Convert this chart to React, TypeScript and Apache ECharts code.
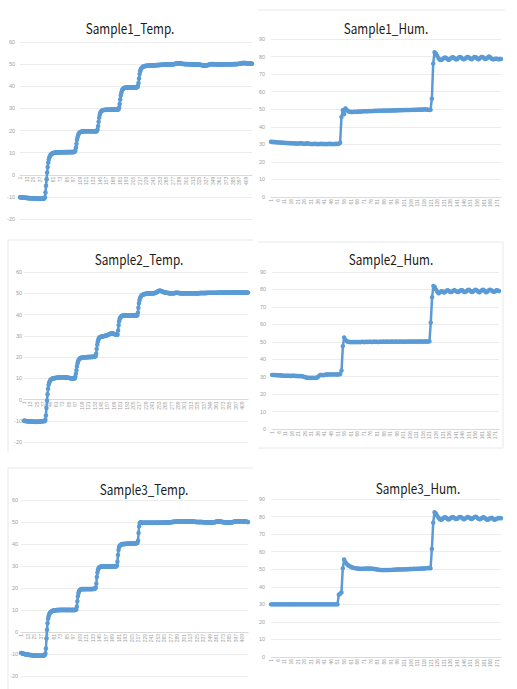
import React, { useEffect, useRef } from "react";
import * as echarts from "echarts";

// Temperature logs (°C), one reading per sample step
const sample1Temp = [
  -10.2,-10.2,-10.3,-10.2,-10.3,-10.3,-10.4,-10.3,-10.4,-10.4,-10.4,-10.5,-10.4,-10.5,-10.5,-10.5,-10.6,-10.5,-10.6,-10.6,
  -10.6,-10.6,-10.7,-10.6,-10.7,-10.7,-10.7,-10.8,-10.7,-10.8,-10.8,-10.8,-10.8,-10.9,-10.8,-10.8,-10.9,-10.8,-10.8,-10.9,
  -10.8,-10.8,-10.9,-10.8,-10.7,-10.2,-8,-5,-2,1,3.5,5.5,6.8,7.8,8.4,8.9,9.2,9.4,9.6,9.7,
  9.8,9.9,9.9,10,10,10.1,10.1,10.1,10.2,10.1,10.2,10.2,10.2,10.1,10.2,10.2,10.3,10.2,10.2,10.2,
  10.3,10.2,10.2,10.3,10.2,10.2,10.3,10.3,10.2,10.3,10.3,10.2,10.3,10.3,10.3,10.2,10.3,10.4,10.3,10.5,
  11,12.3,14,15.8,17,17.9,18.5,18.9,19.1,19.3,19.4,19.5,19.5,19.6,19.6,19.6,19.7,19.6,19.7,19.7,
  19.7,19.6,19.7,19.7,19.7,19.6,19.7,19.7,19.6,19.7,19.7,19.6,19.7,19.6,19.6,19.7,19.6,19.7,19.6,19.8,
  20.5,22,24,25.8,27,27.9,28.4,28.8,29,29.1,29.2,29.3,29.3,29.3,29.4,29.3,29.4,29.4,29.4,29.3,
  29.4,29.4,29.4,29.5,29.4,29.4,29.5,29.4,29.5,29.4,29.4,29.5,29.4,29.5,29.4,29.5,29.4,29.5,29.6,30.4,
  32,34,35.8,37,37.9,38.5,38.8,39,39.2,39.3,39.3,39.4,39.4,39.5,39.4,39.5,39.5,39.5,39.4,39.5,
  39.5,39.5,39.4,39.5,39.5,39.5,39.4,39.5,39.5,39.4,39.5,39.5,39.6,40.2,41.5,43.5,45.5,46.8,47.6,48.1,
  48.4,48.6,48.8,48.9,49,49.1,49.1,49.2,49.2,49.3,49.3,49.3,49.3,49.4,49.3,49.4,49.4,49.4,49.4,49.5,
  49.4,49.5,49.5,49.5,49.5,49.5,49.6,49.5,49.6,49.6,49.6,49.6,49.6,49.7,49.6,49.7,49.7,49.7,49.7,49.7,
  49.7,49.8,49.7,49.8,49.8,49.8,49.8,49.8,49.8,49.8,49.9,49.8,49.9,49.9,49.9,49.9,49.9,49.9,50,50,
  50.1,50.2,50.3,50.3,50.4,50.4,50.4,50.4,50.4,50.3,50.3,50.3,50.2,50.2,50.1,50.1,50.1,50,50,50,
  50,50,50,49.9,50,49.9,49.9,49.9,49.9,49.9,49.9,49.8,49.9,49.8,49.8,49.8,49.8,49.8,49.8,49.8,
  49.8,49.8,49.8,49.7,49.7,49.7,49.7,49.6,49.6,49.5,49.5,49.4,49.4,49.4,49.4,49.4,49.4,49.5,49.5,49.6,
  49.6,49.7,49.8,49.9,49.9,50,50,50,50,49.9,50,49.9,49.9,49.9,49.9,49.9,49.9,49.8,49.9,49.8,
  49.8,49.8,49.8,49.8,49.8,49.8,49.9,49.8,49.9,49.9,49.9,49.9,49.9,49.9,49.9,49.9,49.9,49.9,49.9,49.9,
  49.9,49.9,49.9,49.9,49.9,50,49.9,50,50,50,50,50,50,50.1,50.1,50.1,50.2,50.2,50.3,50.3,
  50.4,50.4,50.5,50.5,50.5,50.5,50.5,50.4,50.5,50.4,50.4,50.4,50.3,50.4,50.3,50.3,50.3,50.2,50.3,50.2,
];

const sample2Temp = [
  -10,-10,-10.1,-10.1,-10.1,-10.2,-10.2,-10.2,-10.3,-10.3,-10.3,-10.3,-10.4,-10.4,-10.4,-10.4,-10.5,-10.5,-10.5,-10.5,
  -10.5,-10.5,-10.6,-10.5,-10.5,-10.5,-10.5,-10.5,-10.4,-10.4,-10.4,-10.3,-10.3,-10.3,-10.2,-10.2,-10.2,-10.1,-10.1,-10.1,
  -9.5,-7.5,-4,-0.5,2.5,5,6.8,7.8,8.5,9,9.3,9.5,9.7,9.8,9.9,10,10,10.1,10.1,10.1,
  10.2,10.2,10.2,10.3,10.3,10.3,10.4,10.4,10.4,10.4,10.5,10.5,10.5,10.5,10.5,10.4,10.4,10.4,10.4,10.3,
  10.3,10.3,10.2,10.2,10.2,10.1,10.1,10,10,10,10,9.9,9.9,10,9.9,10,10.8,12.2,13.8,15.5,
  16.8,17.8,18.5,18.9,19.2,19.4,19.5,19.6,19.7,19.7,19.8,19.8,19.8,19.9,19.9,19.9,19.9,19.9,20,19.9,
  20,20,20,20,20,20,20,20.1,20,20.1,20.1,20.2,20.2,20.3,20.3,21.5,23.8,25.8,27.2,28.1,
  28.7,29.1,29.3,29.4,29.5,29.6,29.6,29.7,29.8,29.8,29.9,29.9,30,30,30.1,30.2,30.3,30.4,30.5,30.7,
  30.8,30.9,31,31,31.1,31.1,31,31,30.9,30.8,30.7,30.6,30.6,30.5,30.5,30.6,32.5,35,36.8,37.9,
  38.5,38.8,39.1,39.3,39.4,39.5,39.5,39.5,39.6,39.5,39.6,39.5,39.5,39.6,39.5,39.5,39.6,39.5,39.5,39.5,
  39.6,39.5,39.5,39.5,39.6,39.5,39.5,39.5,39.6,39.5,39.5,39.6,39.6,40.8,43.2,45.3,46.7,47.6,48.2,48.6,
  48.9,49.1,49.3,49.4,49.5,49.6,49.6,49.7,49.8,49.8,49.8,49.9,49.9,49.9,50,49.9,50,50,50,50,
  50,50,50,50,50.1,50.1,50.2,50.3,50.4,50.6,50.8,50.9,51.1,51.2,51.2,51.2,51.1,51,50.9,50.8,
  50.7,50.6,50.5,50.4,50.4,50.3,50.3,50.2,50.2,50.1,50.1,50.1,50,50,50,50,50,50,50,50,
  50,50.1,50.1,50.1,50.2,50.2,50.2,50.2,50.2,50.1,50.1,50.1,50,50,50,50,50,50,50,50,
  50,50,50,50,50,50,50,50,50,50,50,50,50,50,50,50,50,50,50,50,
  50,50,50,50,50,50,50,50.1,50,50.1,50.1,50.1,50.1,50.1,50.1,50.1,50.1,50.1,50.1,50.1,
  50.1,50.2,50.1,50.2,50.2,50.2,50.2,50.2,50.2,50.2,50.2,50.2,50.2,50.2,50.2,50.2,50.2,50.2,50.2,50.2,
  50.2,50.2,50.2,50.3,50.2,50.3,50.2,50.3,50.3,50.3,50.3,50.3,50.3,50.3,50.3,50.3,50.3,50.3,50.3,50.3,
  50.3,50.3,50.3,50.3,50.3,50.3,50.3,50.3,50.3,50.3,50.3,50.3,50.3,50.3,50.3,50.3,50.3,50.3,50.3,50.3,
  50.3,50.3,50.3,50.3,50.3,50.3,50.3,50.3,50.3,50.3,50.3,50.3,50.3,50.3,50.3,50.3,50.3,50.3,50.3,50.3,
];

const sample3Temp = [
  -9.5,-9.6,-9.7,-9.8,-9.9,-9.9,-10,-10,-10.1,-10.1,-10.2,-10.2,-10.3,-10.3,-10.3,-10.4,-10.4,-10.5,-10.5,-10.5,
  -10.6,-10.6,-10.6,-10.7,-10.7,-10.7,-10.8,-10.8,-10.8,-10.7,-10.8,-10.8,-10.8,-10.7,-10.8,-10.8,-10.7,-10.8,-10.8,-10.8,
  -10.7,-10.8,-10.7,-10.6,-10.5,-9.8,-7.5,-3,1,4,6,7.2,8,8.5,8.9,9.1,9.3,9.5,9.6,9.7,
  9.7,9.8,9.8,9.9,9.9,9.9,10,10,10,10,10,10,10,10.1,10,10,10.1,10,10,10.1,
  10,10,10.1,10,10,10,10.1,10,10,10,10.1,10,10,10,10,10,10.1,10,10,10,
  10,10.1,10.2,11.5,14,16.2,17.6,18.4,18.9,19.1,19.3,19.4,19.5,19.5,19.5,19.5,19.4,19.5,19.5,19.5,
  19.5,19.5,19.5,19.5,19.5,19.5,19.5,19.5,19.5,19.5,19.5,19.5,19.5,19.6,19.6,19.6,19.7,19.8,20.2,22,
  25,27,28.2,28.9,29.2,29.4,29.6,29.7,29.8,29.8,29.8,29.8,29.8,29.8,29.8,29.8,29.8,29.8,29.8,29.8,
  29.8,29.8,29.8,29.8,29.8,29.8,29.8,29.8,29.8,29.8,29.8,29.8,29.8,29.8,29.8,29.8,29.9,30.2,32,35,
  37.3,38.5,39.1,39.4,39.6,39.8,39.9,40,40,40,40,40,40,40.1,40.1,40.1,40.1,40.1,40.1,40.2,
  40.2,40.2,40.2,40.2,40.2,40.2,40.3,40.3,40.3,40.3,40.3,40.3,40.3,40.3,40.4,40.6,41.5,45,48,49.4,
  49.8,49.9,49.7,49.6,49.6,49.6,49.6,49.7,49.6,49.7,49.7,49.6,49.7,49.7,49.7,49.6,49.7,49.7,49.7,49.7,
  49.7,49.7,49.7,49.6,49.7,49.7,49.7,49.7,49.7,49.7,49.7,49.6,49.7,49.7,49.7,49.7,49.7,49.7,49.8,49.7,
  49.7,49.7,49.8,49.7,49.7,49.8,49.7,49.8,49.8,49.8,49.8,49.8,49.8,49.9,49.9,49.9,49.9,49.9,50,50,
  50,50,50.1,50.1,50.1,50.1,50.1,50.1,50.2,50.2,50.2,50.2,50.2,50.2,50.2,50.2,50.2,50.2,50.2,50.2,
  50.2,50.2,50.2,50.2,50.2,50.2,50.2,50.2,50.2,50.2,50.2,50.2,50.2,50.2,50.2,50.2,50.2,50.2,50.1,50.1,
  50.1,50.1,50.1,50,50,50,50,50,50,50,50,50,50,50,50,50,49.9,49.9,49.9,49.9,
  49.9,49.9,49.9,49.9,49.8,49.8,49.8,49.8,49.8,49.8,49.8,49.8,49.8,49.8,49.8,49.8,49.9,49.9,50,50,
  50.1,50.1,50.2,50.2,50.2,50.2,50.2,50.2,50.2,50.1,50.1,50,50,50,49.9,49.9,49.9,49.8,49.8,49.8,
  49.8,49.8,49.8,49.8,49.8,49.8,49.8,49.8,49.9,49.9,49.9,50,50,50.1,50.1,50.2,50.2,50.3,50.3,50.3,
  50.3,50.3,50.3,50.3,50.3,50.3,50.3,50.3,50.3,50.3,50.3,50.3,50.2,50.2,50.2,50.1,50.1,50.1,50,50,
];

// Humidity logs (%RH)
const sample1Hum = [
  31.5,31.4,31.3,31.3,31.2,31.1,31.1,31,31,30.9,
  30.9,30.8,30.8,30.7,30.7,30.6,30.6,30.6,30.5,30.5,
  30.4,30.5,30.7,30.5,30.4,30.3,30.3,30.6,30.4,30.3,
  30.2,30.2,30.2,30.3,30.2,30.2,30.2,30.2,30.3,30.2,
  30.2,30.2,30.2,30.2,30.3,30.2,30.2,30.2,30.2,30.3,
  30.2,30.3,30.9,45.5,49.5,47.2,50.5,49.6,48.9,48.6,
  48.5,48.4,48.5,48.6,48.5,48.6,48.7,48.6,48.7,48.8,
  48.8,48.9,48.8,48.9,49,48.9,49,49,49.1,49,
  49.1,49.1,49.2,49.1,49.2,49.2,49.2,49.3,49.2,49.3,
  49.3,49.3,49.4,49.3,49.4,49.4,49.4,49.5,49.4,49.5,
  49.5,49.5,49.6,49.5,49.6,49.6,49.6,49.7,49.6,49.7,
  49.7,49.7,49.8,49.7,49.8,49.8,49.9,49.8,49.7,49.6,
  49.6,56,76,82.5,81.8,80.5,79,78.2,78,78.5,
  79.2,79.5,79,78.3,78.2,78.8,79.5,79.6,79,78.4,
  78.5,79.3,79.8,79.5,78.8,78.4,78.8,79.5,79.8,79.4,
  78.7,78.5,79.2,79.8,79.6,78.9,78.5,79,79.7,79.8,
  79.3,78.6,78.8,79.5,80,79.5,78.7,78.4,78.6,78.8,
  78.7,78.5,78.6,78.6,
];

const sample2Hum = [
  31,31,30.9,30.9,30.8,30.8,30.8,30.7,30.6,30.5,
  30.5,30.5,30.5,30.5,30.4,30.5,30.5,30.5,30.4,30.4,
  30.4,30.3,30.3,30.2,30,29.8,29.5,29.4,29.3,29.3,
  29.3,29.3,29.3,29.3,29.4,29.8,30.6,31,31,30.8,
  31,31.2,31.2,31.2,31.3,31.3,31.2,31.3,31.3,31.3,
  31.2,31.3,31.5,33.5,47.5,52.5,51,50.3,50,49.9,
  49.8,49.8,49.9,49.8,49.8,49.9,49.9,49.8,49.9,50,
  49.9,49.9,50,49.9,50,50,49.9,50,50,50,
  50,49.9,50,50,50,50.1,50,50,50.1,50,
  50,50.1,50.1,50,50.1,50.1,50,50.1,50.1,50.1,
  50.1,50,50.1,50.1,50.1,50.2,50.1,50.1,50.2,50.1,
  50.1,50.2,50.1,50.2,50.2,50.1,50.2,50.2,50.2,50.2,
  50.3,61,75.5,82,81.5,80,78.5,77.8,78.3,79,
  78.8,78.2,78.5,79.3,79.5,79,78.5,78.6,79.2,79.6,
  79.2,78.6,78.5,79.1,79.6,79.5,78.8,78.5,78.8,79.5,
  79.8,79.3,78.6,78.6,79.3,79.8,79.5,78.8,78.4,78.9,
  79.6,79.8,79.2,78.4,78.6,79.4,79.8,79.6,79.1,78.6,
  78.9,79.5,79.4,79.1,
];

const sample3Hum = [
  30,30,30,30,30,30,30,30,30,30,
  30,30,30,30,30,30,30,30,30,30,
  30,30,30,30,30,30,30,30,30,30,
  30,30,30,30,30,30,30,30,30,30,
  30,30,30,30,30,30,30,30,30,30,
  30,35.5,36,36.8,50.5,55.5,54,53,52.3,51.8,
  51.4,51,50.8,50.6,50.5,50.4,50.3,50.3,50.2,50.3,
  50.3,50.3,50.4,50.4,50.3,50.4,50.3,50.2,50.1,50,
  49.8,49.7,49.6,49.5,49.5,49.5,49.6,49.5,49.5,49.6,
  49.6,49.6,49.7,49.7,49.8,49.8,49.8,49.9,49.8,49.9,
  49.9,50,50,50,50.1,50.1,50.1,50.2,50.2,50.2,
  50.3,50.3,50.3,50.4,50.4,50.4,50.5,50.5,50.7,50.7,
  50.5,61.5,76.5,82.5,81.8,80.5,79.3,78.5,78.2,78.6,
  79.3,79.6,79.2,78.5,78.4,79,79.6,79.7,79.2,78.6,
  78.7,79.4,79.8,79.6,79,78.5,78.8,79.4,79.8,79.5,
  78.9,78.6,79.1,79.7,79.9,79.4,78.7,78.4,78.8,79.4,
  79.6,79.1,78.4,78.2,78.6,79,79.3,78.7,78.2,78.4,
  78.8,79.1,79.2,79,
];

// Sample numbers along the x axis (1-based)
const tempCategories = sample1Temp.map((_, i) => String(i + 1));
const humCategories = sample1Hum.map((_, i) => String(i + 1));

// Value axis ranges: [min, max, step]
const tempAxisRange = [-20, 60, 10];
const humAxisRange = [0, 90, 10];

// Every n-th sample number is printed under the axis
const tempLabelStep = 12;
const humLabelStep = 5;

const titles = [
  "Sample1_Temp.",
  "Sample1_Hum.",
  "Sample2_Temp.",
  "Sample2_Hum.",
  "Sample3_Temp.",
  "Sample3_Hum.",
];

const LINE_BLUE = "#5B9BD5";
const LABEL_GREY = "#a0a0a0";

type Panel = {
  title: string;
  values: number[];
  kind: "temp" | "hum";
  grid: { left: number; top: number; width: number; height: number };
  labelMargin: number;
  titleX: number;
  titleY: number;
};

const panels: Panel[] = [
  { title: titles[0], values: sample1Temp, kind: "temp", grid: { left: 20, top: 42, width: 232, height: 177 }, labelMargin: 5, titleX: 130, titleY: 28 },
  { title: titles[1], values: sample1Hum, kind: "hum", grid: { left: 271, top: 39, width: 230, height: 158 }, labelMargin: 6, titleX: 386, titleY: 28 },
  { title: titles[2], values: sample2Temp, kind: "temp", grid: { left: 24, top: 272, width: 224, height: 170 }, labelMargin: 2, titleX: 139, titleY: 259 },
  { title: titles[3], values: sample2Hum, kind: "hum", grid: { left: 272, top: 272, width: 227, height: 157 }, labelMargin: 6, titleX: 391, titleY: 259 },
  { title: titles[4], values: sample3Temp, kind: "temp", grid: { left: 21, top: 500, width: 227, height: 176 }, labelMargin: 3, titleX: 144, titleY: 489 },
  { title: titles[5], values: sample3Hum, kind: "hum", grid: { left: 271, top: 499, width: 230, height: 158 }, labelMargin: 6, titleX: 418, titleY: 488 },
];

// Faint chart-area frames
const frameLines = [
  [258, 10, 505, 10],
  [8, 240, 253, 240],
  [8, 240, 8, 452],
  [258, 242, 503, 242],
  [503, 242, 503, 448],
  [258, 448, 503, 448],
  [8, 468, 253, 468],
  [8, 468, 8, 689],
];

function buildOption(): echarts.EChartsOption {
  const grid = panels.map((p) => ({ ...p.grid, containLabel: false }));

  const xAxis = panels.map((p, i) => {
    const r = p.kind === "temp" ? tempAxisRange : humAxisRange;
    // the category axis sits on the zero line of the value axis
    const zeroOffset = -p.grid.height * ((0 - r[0]) / (r[1] - r[0]));
    return {
      type: "category" as const,
      gridIndex: i,
      position: "bottom" as const,
      offset: zeroOffset,
      data: p.kind === "temp" ? tempCategories : humCategories,
      boundaryGap: false,
      axisLine: { onZero: false, lineStyle: { color: "#d9d9d9", width: 1 } },
      axisTick: { show: false },
      axisLabel: {
        interval: (p.kind === "temp" ? tempLabelStep : humLabelStep) - 1,
        rotate: 90,
        fontSize: 5,
        color: LABEL_GREY,
        margin: 2,
        fontFamily: "Liberation Sans",
      },
      splitLine: { show: false },
    };
  });

  const yAxis = panels.map((p, i) => {
    const r = p.kind === "temp" ? tempAxisRange : humAxisRange;
    return {
      type: "value" as const,
      gridIndex: i,
      min: r[0],
      max: r[1],
      interval: r[2],
      axisLine: { show: false },
      axisTick: { show: false },
      axisLabel: {
        fontSize: 5.5,
        color: LABEL_GREY,
        margin: p.labelMargin,
        fontFamily: "Liberation Sans",
      },
      splitLine: { show: true, lineStyle: { color: "#ececec", width: 1 } },
    };
  });

  const series = panels.map((p, i) => ({
    type: "line" as const,
    name: p.title,
    xAxisIndex: i,
    yAxisIndex: i,
    data: p.values,
    symbol: "circle",
    symbolSize: 4.5,
    showSymbol: true,
    showAllSymbol: true,
    lineStyle: { color: LINE_BLUE, width: 2.5 },
    itemStyle: { color: LINE_BLUE },
    emphasis: { disabled: true },
  }));

  const graphic: any[] = [
    ...frameLines.map(([x1, y1, x2, y2]) => ({
      type: "line",
      shape: { x1, y1, x2, y2 },
      style: { stroke: "#e8e8e8", lineWidth: 1 },
      silent: true,
    })),
    ...panels.map((p) => ({
      type: "text",
      x: p.titleX,
      y: p.titleY,
      scaleX: 0.84,
      style: {
        text: p.title,
        fill: "#1a1a1a",
        fontSize: 14,
        fontFamily: "Noto Sans CJK KR",
        textAlign: "center",
        textVerticalAlign: "middle",
      },
      silent: true,
    })),
  ];

  return {
    animation: false,
    backgroundColor: "#ffffff",
    grid,
    xAxis,
    yAxis,
    series,
    graphic,
  } as echarts.EChartsOption;
}

export default function App() {
  const ref = useRef<HTMLDivElement>(null);

  useEffect(() => {
    if (!ref.current) return;
    const chart = echarts.init(ref.current, undefined, { renderer: "svg" });
    chart.setOption(buildOption());
    return () => chart.dispose();
  }, []);

  return (
    <div
      ref={ref}
      style={{ position: "absolute", left: 0, top: 0, width: 517, height: 689, background: "#fff" }}
    />
  );
}
